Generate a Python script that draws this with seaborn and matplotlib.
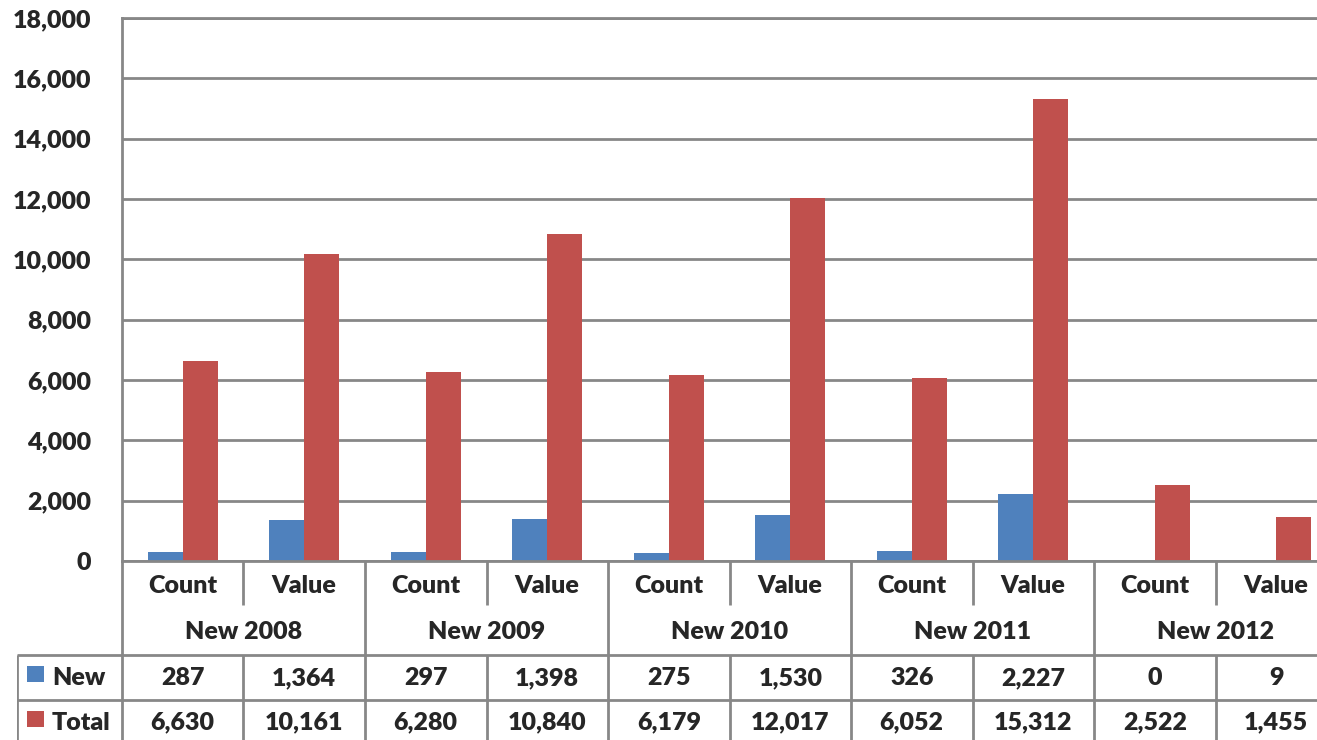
import seaborn as sns
import matplotlib.pyplot as plt
import pandas as pd
from matplotlib.patches import Rectangle

# chart data
groups = ["New 2008", "New 2009", "New 2010", "New 2011", "New 2012"]
measures = ["Count", "Value"]
new_vals = [287, 1364, 297, 1398, 275, 1530, 326, 2227, 0, 9]
total_vals = [6630, 10161, 6280, 10840, 6179, 12017, 6052, 15312, 2522, 1455]
y_ticks = [0, 2000, 4000, 6000, 8000, 10000, 12000, 14000, 16000, 18000]

blue = "#4F81BD"
red = "#C0504D"
grid_col = "#878787"

slots = [g + " " + m for g in groups for m in measures]
df = pd.DataFrame({
    "slot": slots * 2,
    "series": ["New"] * len(slots) + ["Total"] * len(slots),
    "amount": new_vals + total_vals,
})

sns.set_style("white")
plt.rcParams["font.family"] = ["Lato", "DejaVu Sans"]
wt = "heavy"
plt.rcParams["font.weight"] = wt

W, H = 1317, 740
fig = plt.figure(figsize=(W / 100, H / 100), dpi=100)

# plot area: x 122..1337 px (cut off on the right), y 18..561 px
ax = fig.add_axes([122 / W, 179 / H, 1215 / W, 543 / H])
sns.barplot(data=df, x="slot", y="amount", hue="series", order=slots,
            palette=[blue, red], width=0.58, saturation=1, linewidth=0,
            legend=False, ax=ax)
ax.set_xlim(-0.5, 9.5)
ax.set_ylim(0, 18000)
ax.set_yticks(y_ticks)
ax.set_yticklabels([f"{v:,}" for v in y_ticks])
ax.set_xticks([])
ax.set_xlabel("")
ax.set_ylabel("")
ax.yaxis.grid(True, color=grid_col, linewidth=2)
ax.set_axisbelow(True)
ax.tick_params(axis="y", length=0, pad=22, labelsize=18)
for lab in ax.get_yticklabels():
    lab.set_fontweight(wt)
for side in ["left", "bottom", "top"]:
    ax.spines[side].set_color(grid_col)
    ax.spines[side].set_linewidth(2)
ax.spines["right"].set_visible(False)

# data table under the plot, in pixel rows 561..740
cat_px = 121.5
x_left = -0.5 - 105 / cat_px
tax = fig.add_axes([17 / W, 0, 1320 / W, 179 / H])
tax.set_xlim(x_left, 9.5)
tax.set_ylim(740, 561)
tax.axis("off")

lk = dict(color=grid_col, linewidth=2, solid_capstyle="butt")
for yy in [655, 700]:
    tax.plot([x_left, 9.5], [yy, yy], **lk)
tax.plot([x_left, x_left], [655, 740], **lk)
tax.plot([-0.5, -0.5], [561, 740], **lk)
for i in range(1, len(groups)):
    xx = 2 * i - 0.5
    tax.plot([xx, xx], [561, 740], **lk)
for i in range(len(groups)):
    xx = 2 * i + 0.5
    tax.plot([xx, xx], [561, 605], **lk)
    tax.plot([xx, xx], [655, 740], **lk)

fs = 18
for i, s in enumerate(slots):
    tax.text(i, 586, measures[i % 2], ha="center", va="center", fontsize=fs, fontweight=wt)
    tax.text(i, 678, f"{new_vals[i]:,}", ha="center", va="center", fontsize=fs, fontweight=wt)
    tax.text(i, 722, f"{total_vals[i]:,}", ha="center", va="center", fontsize=fs, fontweight=wt)
for i, g in enumerate(groups):
    tax.text(2 * i + 0.5, 632, g, ha="center", va="center", fontsize=fs, fontweight=wt)

# legend keys inside the table
for name, col, y0 in [("New", blue, 666), ("Total", red, 711)]:
    fig.patches.append(Rectangle((27 / W, (H - y0 - 16) / H), 17 / W, 16 / H,
                                 transform=fig.transFigure, facecolor=col, edgecolor="none"))
    fig.text(52 / W, (H - y0 - 12) / H, name, ha="left", va="center", fontsize=fs, fontweight=wt)

fig.savefig("out.png", dpi=100)
